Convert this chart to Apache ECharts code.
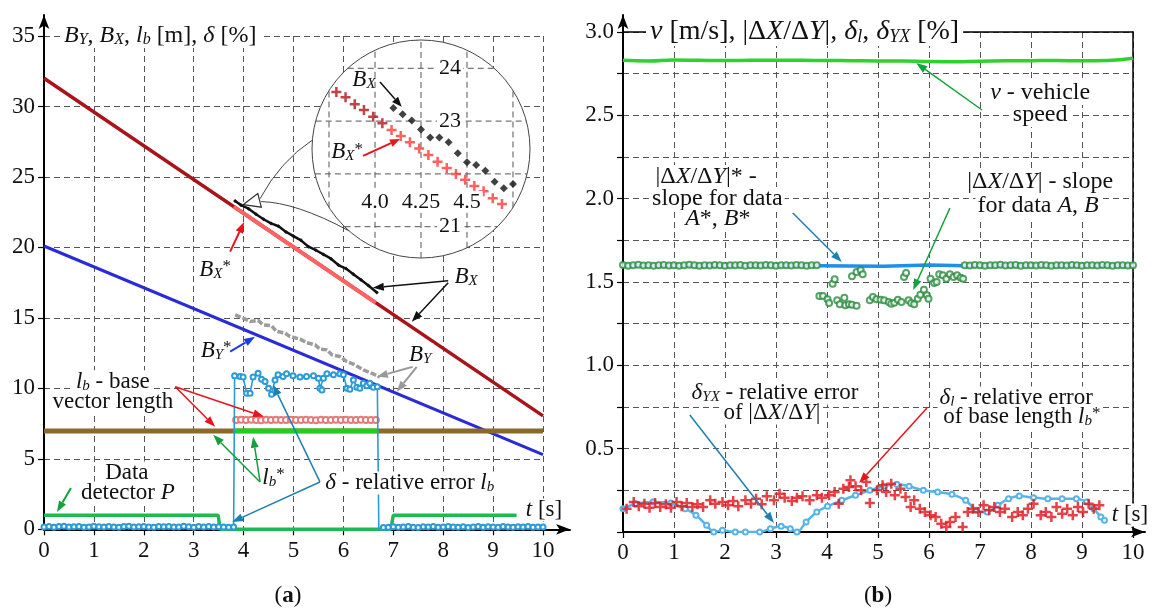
<!DOCTYPE html>
<html><head><meta charset="utf-8">
<script src="https://cdn.jsdelivr.net/npm/echarts/dist/echarts.min.js"></script>
<style>html,body{margin:0;padding:0;background:#fff}#c{width:1153px;height:615px}</style>
</head><body><div id="c"></div>
<script>
// ================= DATA =================
// ---- panel (a) ----
const tBX = [0, 10];
const BX = [32.0, 8.05];                         // B_X (dark red line)
const tBXstar = [3.80,3.95,4.10,4.25,4.40,4.55,4.70,4.85,5.00,5.15,5.30,5.45,5.60,5.75,5.90,6.05,6.20,6.35,6.50,6.65];
const BXstar = [22.90,22.54,22.18,21.82,21.46,21.10,20.74,20.38,20.03,19.67,19.31,18.95,18.59,18.23,17.87,17.51,17.15,16.79,16.43,16.07];
const tBXm = [3.83,3.95,4.10,4.25,4.40,4.55,4.70,4.85,5.00,5.15,5.30,5.45,5.60,5.75,5.90,6.05,6.20,6.35,6.50,6.67];
const BXm = [23.3,23.0,22.75,22.35,22.0,21.7,21.5,21.1,20.8,20.5,20.05,19.8,19.5,19.2,18.75,18.5,18.1,17.7,17.3,16.8];
const tBY = [0, 10];
const BYstar = [20.1, 5.3];                      // B_Y* (blue)
const tBYm = [3.83,3.99,4.13,4.29,4.39,4.56,4.66,4.83,4.93,5.13,5.26,5.43,5.53,5.67,5.77,5.93,6.07,6.23,6.40,6.57,6.73];
const BYm = [15.22,14.98,14.75,14.82,14.51,14.44,14.04,13.92,13.68,13.49,13.25,13.09,12.78,12.73,12.38,12.26,11.9,11.67,11.31,11.07,10.79];
const tLb = [0, 10];
const Lb = [6.98, 6.98];                         // l_b brown
const tLbStar = [3.8, 6.7];
const LbStar = [7.0, 7.0];                       // l_b* green
const tLbAB = [3.85,3.95,4.05,4.15,4.25,4.35,4.45,4.55,4.65,4.75,4.85,4.95,5.05,5.15,5.25,5.35,5.45,5.55,5.65,5.75,5.85,5.95,6.05,6.15,6.25,6.35,6.45,6.55,6.65];
const LbAB = [7.76,7.78,7.75,7.77,7.76,7.74,7.77,7.76,7.78,7.75,7.76,7.77,7.75,7.76,7.78,7.76,7.74,7.77,7.76,7.75,7.77,7.76,7.78,7.75,7.76,7.77,7.75,7.76,7.76];
const tDeltaPre = [0,0.1,0.2,0.3,0.4,0.5,0.6,0.7,0.8,0.9,1.0,1.1,1.2,1.3,1.4,1.5,1.6,1.7,1.8,1.9,2.0,2.1,2.2,2.3,2.4,2.5,2.6,2.7,2.8,2.9,3.0,3.1,3.2,3.3,3.4,3.5,3.6,3.7];
const deltaPre = [0.17,0.2,0.15,0.19,0.22,0.16,0.18,0.2,0.15,0.17,0.21,0.18,0.16,0.2,0.17,0.15,0.19,0.21,0.16,0.18,0.2,0.17,0.15,0.19,0.18,0.2,0.16,0.17,0.21,0.18,0.15,0.19,0.17,0.2,0.16,0.18,0.17,0.15];
const tDeltaMid = [3.80,3.82,3.93,3.99,4.06,4.13,4.19,4.29,4.36,4.43,4.50,4.56,4.63,4.69,4.79,4.86,4.99,5.13,5.26,5.40,5.50,5.53,5.57,5.60,5.67,5.80,5.93,6.00,6.07,6.13,6.20,6.27,6.33,6.40,6.47,6.53,6.60,6.68];
const deltaMid = [0.17,10.89,10.84,10.8,9.66,9.66,10.8,11.08,10.65,10.48,10.01,9.58,10.6,10.96,10.84,11.03,10.89,10.8,10.84,10.89,10.72,10.01,9.89,10.72,11.03,10.96,11.03,10.96,10.01,9.94,10.6,10.08,10.01,10.37,10.18,10.37,10.08,10.12];
const tDeltaPost = [6.71,6.8,6.9,7.0,7.1,7.2,7.3,7.4,7.5,7.6,7.7,7.8,7.9,8.0,8.1,8.2,8.3,8.4,8.5,8.6,8.7,8.8,8.9,9.0,9.1,9.2,9.3,9.4,9.5,9.6,9.7,9.8,9.9,10.0];
const deltaPost = [-0.1,0.12,0.15,0.18,0.14,0.17,0.2,0.15,0.13,0.18,0.16,0.19,0.14,0.17,0.2,0.16,0.15,0.18,0.13,0.17,0.19,0.15,0.18,0.16,0.14,0.2,0.17,0.15,0.18,0.16,0.19,0.14,0.17,0.16];
const tP = [0, 3.49, 3.53, 6.95, 7.0, 9.47];
const P = [1, 1, 0, 0, 1, 1];                    // data detector P

// inset (magnified B_X, B_X*)
const insetXTicks = [3.75, 4.0, 4.25, 4.5, 4.75];
const insetYTicks = [21, 22, 23, 24];
const insetXLabels = ['4.0', '4.25', '4.5'];
const insetXLabelVals = [4.0, 4.25, 4.5];
const insetYLabelVals = [24, 23, 21];
const tInBXsDark = [3.79,3.84,3.89,3.94,3.99,4.04];
const inBXsDark = [23.55,23.45,23.32,23.21,23.08,22.96];
const tInBXs = [4.09,4.14,4.19,4.24,4.29,4.34,4.39,4.44,4.49,4.54,4.59,4.64,4.69];
const inBXs = [22.83,22.72,22.60,22.48,22.36,22.23,22.11,22.0,21.89,21.77,21.67,21.54,21.43];
const tInBX = [4.10,4.15,4.20,4.25,4.30,4.35,4.40,4.45,4.50,4.55,4.60,4.65,4.70,4.75];
const inBX = [23.25,23.13,23.01,22.84,22.69,22.69,22.60,22.39,22.22,22.17,22.06,21.85,21.73,21.81];

// ---- panel (b) ----
const tV = [0,0.5,1,1.5,2,2.5,3,3.5,4,4.5,5,5.5,6,6.5,7,7.5,8,8.5,9,9.5,10];
const V = [2.83,2.826,2.832,2.83,2.829,2.83,2.831,2.83,2.829,2.828,2.826,2.826,2.823,2.822,2.825,2.827,2.828,2.829,2.827,2.829,2.843];
const tSlopeStar = [0, 3.8, 5.1, 6.0, 6.7, 10];
const slopeStar = [1.598, 1.598, 1.594, 1.602, 1.598, 1.598];
const tSlopeA = [0,0.1,0.2,0.3,0.4,0.5,0.6,0.7,0.8,0.9,1.0,1.1,1.2,1.3,1.4,1.5,1.6,1.7,1.8,1.9,2.0,2.1,2.2,2.3,2.4,2.5,2.6,2.7,2.8,2.9,3.0,3.1,3.2,3.3,3.4,3.5,3.6,3.7,3.8];
const slopeA = [1.602,1.598,1.6,1.603,1.599,1.601,1.597,1.6,1.602,1.599,1.601,1.598,1.6,1.603,1.6,1.598,1.601,1.599,1.602,1.6,1.597,1.601,1.6,1.602,1.598,1.6,1.601,1.599,1.602,1.6,1.598,1.601,1.6,1.599,1.602,1.6,1.598,1.601,1.6];
const tSlopeM = [3.85,3.92,4.01,4.04,4.11,4.15,4.20,4.25,4.34,4.36,4.43,4.49,4.58,4.49,4.58,4.66,4.70,4.84,4.90,4.97,5.05,5.12,5.21,5.26,5.32,5.39,5.46,5.51,5.55,5.60,5.65,5.71,5.78,5.83,5.90,5.96,5.99,6.03,6.10,6.15,6.20,6.27,6.34,6.41,6.48,6.55,6.62,6.67];
const slopeM = [1.416,1.416,1.396,1.374,1.49,1.516,1.39,1.366,1.406,1.36,1.366,1.364,1.358,1.534,1.56,1.57,1.546,1.39,1.41,1.396,1.394,1.39,1.38,1.37,1.376,1.394,1.38,1.53,1.554,1.39,1.374,1.366,1.40,1.424,1.454,1.42,1.40,1.52,1.494,1.50,1.546,1.54,1.52,1.546,1.53,1.54,1.526,1.52];
const tSlopeB = [6.7,6.8,6.9,7.0,7.1,7.2,7.3,7.4,7.5,7.6,7.7,7.8,7.9,8.0,8.1,8.2,8.3,8.4,8.5,8.6,8.7,8.8,8.9,9.0,9.1,9.2,9.3,9.4,9.5,9.6,9.7,9.8,9.9,10.0];
const slopeB = [1.601,1.599,1.602,1.6,1.598,1.601,1.6,1.603,1.599,1.6,1.602,1.598,1.6,1.601,1.599,1.602,1.6,1.598,1.601,1.6,1.599,1.602,1.6,1.598,1.601,1.6,1.599,1.602,1.6,1.598,1.601,1.6,1.599,1.6];
const tDl = [0.07,0.21,0.31,0.42,0.52,0.63,0.73,0.84,0.94,1.05,1.15,1.25,1.36,1.46,1.57,1.71,1.81,1.95,2.06,2.16,2.26,2.40,2.51,2.61,2.72,2.82,2.96,3.07,3.17,3.31,3.41,3.52,3.66,3.80,3.90,4.04,4.15,4.23,4.32,4.43,4.46,4.56,4.67,4.77,4.84,4.98,5.09,5.16,5.26,5.33,5.44,5.54,5.64,5.71,5.82,5.92,6.03,6.13,6.24,6.34,6.41,6.52,6.66,6.76,6.86,6.97,7.07,7.18,7.28,7.39,7.49,7.63,7.74,7.84,7.94,8.05,8.19,8.29,8.40,8.50,8.61,8.71,8.82,8.92,9.02,9.13,9.23,9.34];
const Dl = [0.14,0.18,0.154,0.17,0.146,0.174,0.15,0.166,0.146,0.18,0.154,0.174,0.15,0.166,0.15,0.19,0.17,0.18,0.16,0.186,0.154,0.19,0.17,0.20,0.166,0.214,0.19,0.23,0.206,0.186,0.206,0.214,0.19,0.22,0.206,0.22,0.24,0.17,0.26,0.27,0.31,0.274,0.25,0.30,0.174,0.25,0.28,0.24,0.29,0.22,0.26,0.21,0.15,0.19,0.14,0.12,0.10,0.09,0.05,0.03,0.06,0.09,0.03,0.12,0.14,0.12,0.16,0.13,0.15,0.12,0.14,0.09,0.12,0.10,0.14,0.17,0.10,0.12,0.09,0.15,0.11,0.14,0.10,0.15,0.12,0.17,0.14,0.16];
const tDyx = [0,0.24,0.59,0.94,1.22,1.43,1.64,1.78,1.95,2.20,2.40,2.68,2.89,3.10,3.28,3.41,3.59,3.80,4.01,4.29,4.56,4.84,5.12,5.37,5.61,5.89,6.17,6.45,6.72,6.93,7.14,7.35,7.56,7.77,8.05,8.33,8.61,8.89,9.09,9.23,9.37,9.44];
const Dyx = [0.14,0.17,0.18,0.174,0.14,0.10,0.04,0.0,0.01,0.0,0.0,0.0,0.02,0.034,0.02,0.0,0.06,0.12,0.154,0.19,0.22,0.25,0.274,0.286,0.274,0.25,0.24,0.226,0.19,0.13,0.12,0.16,0.20,0.216,0.206,0.20,0.20,0.20,0.18,0.14,0.09,0.07];

// ================= STYLE / LAYOUT =================
const FONT = '"Liberation Serif","Times New Roman",serif';
const TICK_FS = 23;
const zip = (a, b) => a.map((x, i) => [x, b[i]]);
const PLUS = 'path://M3,0H5V3H8V5H5V8H3V5H0V3H3Z';
const GRIDLINE = { color: '#555', width: 1, type: [6, 4] };
const insetX = [3.6576, 4.8424], insetY = [20.407, 24.536];

function dataX(grid, extra) {
  return Object.assign({
    gridIndex: grid, type: 'value', min: 0, max: 10, interval: 1,
    axisLine: { show: false },
    axisTick: { show: true, length: 6, lineStyle: { color: '#000', width: 1.2 } },
    axisLabel: { fontFamily: FONT, fontSize: TICK_FS, color: '#111', margin: 10 },
    splitLine: { show: true, lineStyle: GRIDLINE }
  }, extra || {});
}
function frameAxis(grid) {
  return {
    gridIndex: grid, type: 'value', min: 0, max: 1,
    axisLine: { show: true, onZero: false, symbol: ['none', 'arrow'], symbolSize: [8, 14], lineStyle: { color: '#000', width: 2 } },
    axisTick: { show: false }, axisLabel: { show: false }, splitLine: { show: false }
  };
}
function solidBorder(grid, pos, max) {
  return { gridIndex: grid, type: 'value', position: pos, min: 0, max: max, z: 1,
    axisLine: { show: true, onZero: false, lineStyle: { color: '#000', width: 1.5 } },
    axisTick: { show: false }, axisLabel: { show: false }, splitLine: { show: false } };
}
function hidden(grid, r) { return { gridIndex: grid, type: 'value', min: r[0], max: r[1], show: false }; }

const xAxis = [
  dataX(0),
  dataX(1, { axisLabel: { fontFamily: FONT, fontSize: TICK_FS, color: '#111', margin: 9 } }),
  solidBorder(1, 'top', 10),
  hidden(2, insetX),
  frameAxis(3),
  frameAxis(4)
];
const yAxis = [
  dataX(0, { min: 0, max: 35, interval: 5, axisLabel: { fontFamily: FONT, fontSize: TICK_FS, color: '#111', margin: 9 } }),
  dataX(1, { min: 0, max: 3, interval: 0.25, axisLabel: { fontFamily: FONT, fontSize: TICK_FS, color: '#111', margin: 9,
    formatter: v => (v > 0 && Math.abs(v * 2 - Math.round(v * 2)) < 1e-6) ? v.toFixed(1) : '' } }),
  solidBorder(1, 'right', 3),
  hidden(2, insetY),
  frameAxis(3),
  frameAxis(4)
];

const grid = [
  { left: 44, top: 36, width: 499, height: 493.3, outerBoundsMode: 'none' },
  { left: 623, top: 32, width: 510, height: 500, outerBoundsMode: 'none' },
  { left: 312, top: 40, width: 218, height: 218, outerBoundsMode: 'none' },
  { left: 44, top: 15, width: 526, height: 514.3, outerBoundsMode: 'none' },
  { left: 623, top: 15, width: 522, height: 517, outerBoundsMode: 'none' }
];

function L(name, data, color, width, extra, axis) {
  const a = axis == null ? 0 : axis;
  return Object.assign({ name, type: 'line', xAxisIndex: a, yAxisIndex: a, data, symbol: 'none',
    lineStyle: { color, width }, itemStyle: { color }, silent: true, z: 3 }, extra || {});
}

// inset grid lines, clipped to the magnifier circle
const icx = (insetX[0] + insetX[1]) / 2, icy = (insetY[0] + insetY[1]) / 2;
const irx = (insetX[1] - insetX[0]) / 2, iry = (insetY[1] - insetY[0]) / 2;
const insetLines = [];
insetXTicks.forEach(x => { const k = (x - icx) / irx; const h = iry * Math.sqrt(1 - k * k);
  insetLines.push(L('ig', [[x, icy - h], [x, icy + h]], '#555', 1, { lineStyle: GRIDLINE, z: 3 }, 3)); });
insetYTicks.forEach(y => { const k = (y - icy) / iry; const w = irx * Math.sqrt(1 - k * k);
  insetLines.push(L('ig', [[icx - w, y], [icx + w, y]], '#555', 1, { lineStyle: GRIDLINE, z: 3 }, 3)); });

const series = [
  // panel (a)
  L('B_X', zip(tBX, BX), '#a8141a', 3.5),
  L('B_X*', zip(tBXstar, BXstar), '#ff6262', 4, { z: 4 }),
  L('B_X data', zip(tBXm, BXm), '#111', 2.5, { symbol: 'diamond', symbolSize: 4, showAllSymbol: true, z: 5 }),
  L('B_Y*', zip(tBY, BYstar), '#2a2ad6', 3),
  L('B_Y', zip(tBYm, BYm), '#9c9c9c', 3.5, { lineStyle: { color: '#9c9c9c', width: 3.5, type: [6, 2] }, z: 4 }),
  L('l_b', zip(tLb, Lb), '#8a6a2a', 5),
  L('l_b*', zip(tLbStar, LbStar), '#22cc22', 4.5, { z: 4 }),
  L('l_b AB', zip(tLbAB, LbAB), '#e47a7a', 1.2, { symbol: 'emptyCircle', symbolSize: 6, showAllSymbol: true, z: 4,
    itemStyle: { color: '#e47a7a', borderWidth: 1.2 } }),
  L('delta', zip(tDeltaPre, deltaPre).concat(zip(tDeltaMid, deltaMid), zip(tDeltaPost, deltaPost)), '#2a9ad8', 1.6,
    { symbol: 'emptyCircle', symbolSize: 5, showAllSymbol: true, z: 6,
      itemStyle: { color: '#2a9ad8', borderWidth: 1.2 } }),
  L('P', zip(tP, P), '#1db954', 3.5, { z: 5 }),
  // panel (b)
  L('v', zip(tV, V), '#2ed12e', 3.5, { smooth: true }, 1),
  L('slope*', zip(tSlopeStar, slopeStar), '#1e90e6', 3.5, {}, 1),
  { name: 'slope', type: 'scatter', xAxisIndex: 1, yAxisIndex: 1, silent: true, z: 4,
    data: zip(tSlopeA, slopeA).concat(zip(tSlopeM, slopeM), zip(tSlopeB, slopeB)),
    symbol: 'emptyCircle', symbolSize: 6, itemStyle: { color: '#2b8c3f', borderWidth: 1.2 } },
  L('delta_YX', zip(tDyx, Dyx), '#58b4e8', 2.5, { smooth: 0.3, symbol: 'emptyCircle', symbolSize: 5, showAllSymbol: true,
    itemStyle: { color: '#58b4e8', borderWidth: 1.2 }, z: 4 }, 1),
  { name: 'delta_l', type: 'scatter', xAxisIndex: 1, yAxisIndex: 1, silent: true, z: 5,
    data: zip(tDl, Dl), symbol: PLUS, symbolSize: 10, itemStyle: { color: '#e0141c' } },
  // inset
  ...insetLines,
  { name: 'in B_X* a', type: 'scatter', xAxisIndex: 3, yAxisIndex: 3, silent: true, z: 6,
    data: zip(tInBXsDark, inBXsDark), symbol: PLUS, symbolSize: 10, itemStyle: { color: '#b0141c' } },
  { name: 'in B_X*', type: 'scatter', xAxisIndex: 3, yAxisIndex: 3, silent: true, z: 6,
    data: zip(tInBXs, inBXs), symbol: PLUS, symbolSize: 10, itemStyle: { color: '#ff3a3a' } },
  { name: 'in B_X', type: 'scatter', xAxisIndex: 3, yAxisIndex: 3, silent: true, z: 6,
    data: zip(tInBX, inBX), symbol: 'diamond', symbolSize: 8, itemStyle: { color: '#111' } }
];

const chart = echarts.init(document.getElementById('c'), null, { renderer: 'canvas' });
chart.setOption({ animation: false, backgroundColor: '#fff', grid, xAxis, yAxis, series });

// ================= ANNOTATIONS (placed in data coordinates) =================
const cv = (xi, yi) => (t, v) => chart.convertToPixel({ xAxisIndex: xi, yAxisIndex: yi }, [t, v]);
const PA = cv(0, 0), PB = cv(1, 1), PI = cv(3, 3);
const els = [];
function T(p, text, o) {
  o = o || {};
  const fs = o.fs || 23;
  const sfs = Math.round(fs * 0.66);
  const rich = {
    i: { fontStyle: 'italic', fontFamily: FONT, fontSize: fs, lineHeight: fs },
    s: { fontStyle: 'italic', fontFamily: FONT, fontSize: sfs, lineHeight: 8, verticalAlign: 'bottom' },
    p: { fontFamily: FONT, fontSize: Math.round(fs * 0.72), lineHeight: 8, verticalAlign: 'top' },
    b: { fontWeight: 'bold', fontFamily: FONT, fontSize: fs, lineHeight: fs }
  };
  els.push({ type: 'text', x: p[0], y: p[1], z: o.z || 20, silent: true,
    style: { text, fill: '#111', fontFamily: FONT, fontSize: fs,
      align: o.align || 'center', textAlign: o.align || 'center', verticalAlign: 'middle', textVerticalAlign: 'middle',
      lineHeight: fs, backgroundColor: o.bg === false ? 'transparent' : '#fff', padding: o.pad || [0, 2], rich } });
}
function A(a, b, color, w, hl, hw) {
  w = w || 1.5; hl = hl || 11; hw = hw || 4;
  const dx = b[0] - a[0], dy = b[1] - a[1], len = Math.hypot(dx, dy), ux = dx / len, uy = dy / len;
  const bx = b[0] - ux * hl, by = b[1] - uy * hl;
  els.push({ type: 'line', silent: true, z: 15, shape: { x1: a[0], y1: a[1], x2: bx, y2: by }, style: { stroke: color, lineWidth: w } });
  els.push({ type: 'polygon', silent: true, z: 15, shape: { points: [[b[0], b[1]], [bx - uy * hw, by + ux * hw], [bx + uy * hw, by - ux * hw]] }, style: { fill: color } });
}
function Q(p1, c, p2) {
  els.push({ type: 'bezierCurve', silent: true, z: 14,
    shape: { x1: p1[0], y1: p1[1], cpx1: c[0], cpy1: c[1], x2: p2[0], y2: p2[1] },
    style: { stroke: '#444', lineWidth: 1, fill: null } });
}

// magnifier circle
const cC = PI(icx, icy), cR = (PI(insetX[1], icy)[0] - PI(insetX[0], icy)[0]) / 2;
els.push({ type: 'circle', silent: true, z: 1, shape: { cx: cC[0], cy: cC[1], r: cR }, style: { fill: '#fff', stroke: '#444', lineWidth: 1 } });
const onCircle = deg => [cC[0] + cR * Math.cos(deg * Math.PI / 180), cC[1] + cR * Math.sin(deg * Math.PI / 180)];
const mTip = PA(3.99, 23.03), mBase1 = PA(4.33, 23.46), mBase2 = PA(4.35, 23.25);
Q(mBase1, PA(4.73, 26.1), onCircle(184.7));
Q(mBase2, PA(5.05, 23.2), onCircle(131.3));
(function () {
  const b = [(mBase1[0] + mBase2[0]) / 2, (mBase1[1] + mBase2[1]) / 2];
  const dx = mTip[0] - b[0], dy = mTip[1] - b[1], len = Math.hypot(dx, dy), ux = dx / len, uy = dy / len;
  const hl = 17, hw = 7, bx = mTip[0] - ux * hl, by = mTip[1] - uy * hl;
  els.push({ type: 'polygon', silent: true, z: 16, shape: { points: [mTip, [bx - uy * hw, by + ux * hw], [bx + uy * hw, by - ux * hw]] }, style: { fill: '#fff', stroke: '#333', lineWidth: 1.2 } });
})();
// inset labels
insetYLabelVals.forEach(v => T(PI(4.408, v), String(v), { fs: 22, z: 8 }));
insetXLabelVals.forEach((x, i) => T(PI(x, 21.47), insetXLabels[i], { fs: 22, z: 8 }));
T(PI(3.94, 23.78), '{i|B}{s|X}', { z: 8, bg: false });
A(PI(4.027, 23.74), PI(4.145, 23.27), '#111', 1.5, 10, 4);
T(PI(3.848, 22.41), '{i|B}{s|X}{p|*}', { z: 8, bg: false });
A(PI(3.935, 22.34), PI(4.136, 22.66), '#e8141c', 2, 10, 4);

// panel (a) texts & arrows
T(PA(0.32, 35), '{i|B}{s|Y}, {i|B}{s|X}, {i|l}{s|b} [m], {i|δ} [%]', { align: 'left', fs: 24, pad: [0, 4] });
T(PA(3.43, 18.42), '{i|B}{s|X}{p|*}', { bg: false });
A(PA(3.73, 19.7), PA(4.01, 21.8), '#e8141c', 2);
T(PA(8.46, 17.93), '{i|B}{s|X}');
A(PA(8.10, 17.63), PA(6.59, 17.13), '#111', 1.5);
A(PA(8.10, 17.5), PA(7.37, 14.72), '#111', 1.5);
T(PA(3.45, 12.66), '{i|B}{s|Y}{p|*}', { bg: false });
A(PA(3.73, 12.6), PA(4.23, 13.67), '#1a3fe0', 2);
T(PA(7.54, 12.38), '{i|B}{s|Y}');
A(PA(7.39, 11.53), PA(6.67, 10.82), '#999', 2);
A(PA(7.47, 11.53), PA(7.07, 9.76), '#999', 2);
T(PA(1.38, 10.46), '{i|l}{s|b} - base');
T(PA(1.38, 9.04), 'vector length');
A(PA(2.63, 10.11), PA(3.43, 7.27), '#e8141c', 1.5);
A(PA(2.63, 10.11), PA(4.41, 7.98), '#e8141c', 1.5);
T(PA(4.6, 3.64), '{i|l}{s|b}{p|*}', { bg: false });
A(PA(4.33, 3.36), PA(3.39, 6.70), '#14a03c', 1.5);
A(PA(4.33, 3.36), PA(4.19, 6.56), '#14a03c', 1.5);
T(PA(7.33, 3.29), '{i|δ} - relative error {i|l}{s|b}');
A(PA(5.53, 3.36), PA(3.77, 0.52), '#1f7fb0', 1.5);
A(PA(5.53, 3.36), PA(4.59, 10.26), '#1f7fb0', 1.5);
T(PA(1.66, 4.0), 'Data');
T(PA(1.68, 2.58), 'detector {i|P}');
A(PA(0.54, 2.93), PA(0.26, 1.23), '#14a03c', 2);
T(PA(10.02, 1.37), '{i|t} [s]');
T(PA(4.89, -4.74), '({b|a})', { bg: false });

// panel (b) texts & arrows
T(PB(0.45, 3.0), '{i|v} [m/s], |Δ{i|X}/Δ{i|Y}|, {i|δ}{s|l}, {i|δ}{s|YX} [%]', { align: 'left', fs: 28, pad: [0, 4] });
T(PB(8.18, 2.634), '{i|v} - vehicle', { fs: 24 });
T(PB(8.18, 2.502), 'speed', { fs: 24 });
A(PB(7.04, 2.532), PB(5.75, 2.814), '#14a03c', 1.5);
T(PB(1.63, 2.13), '|Δ{i|X}/Δ{i|Y}|* -', { fs: 24 });
T(PB(1.85, 1.998), 'slope for data', { fs: 24 });
T(PB(1.86, 1.878), '{i|A}*, {i|B}*', { fs: 24 });
A(PB(3.33, 1.914), PB(4.29, 1.62), '#1f7fb0', 1.5);
T(PB(8.18, 2.10), '|Δ{i|X}/Δ{i|Y}| - slope', { fs: 24 });
T(PB(8.14, 1.956), 'for data {i|A}, {i|B}', { fs: 24 });
A(PB(6.41, 1.944), PB(5.69, 1.452), '#14a03c', 1.5);
T(PB(2.98, 0.834), '{i|δ}{s|YX} - relative error', { fs: 23 });
T(PB(2.92, 0.714), 'of |Δ{i|X}/Δ{i|Y}|', { fs: 23 });
A(PB(1.31, 0.702), PB(2.96, 0.054), '#1f7fb0', 1.5);
T(PB(7.71, 0.804), '{i|δ}{s|l} - relative error', { fs: 23 });
T(PB(7.82, 0.69), 'of base length {i|l}{s|b}{p|*}', { fs: 23 });
A(PB(5.96, 0.744), PB(4.63, 0.294), '#e8141c', 1.5);
T(PB(9.94, 0.102), '{i|t} [s]');
T(PB(5.0, -0.384), '({b|b})', { bg: false });

chart.setOption({ graphic: els });
</script></body></html>
